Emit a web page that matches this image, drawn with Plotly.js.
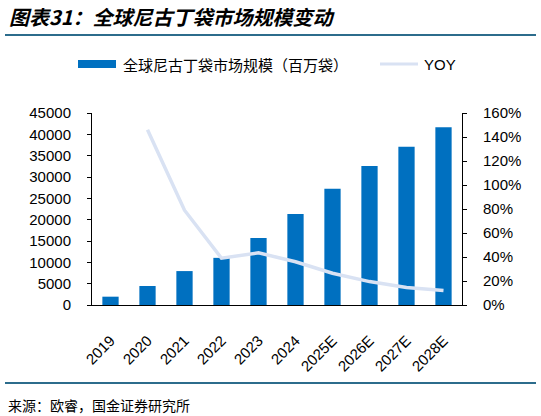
<!DOCTYPE html>
<html>
<head>
<meta charset="utf-8">
<script src="https://cdn.plot.ly/plotly-3.0.1.min.js"></script>
<style>
  html, body { margin: 0; padding: 0; background: #fff; }
  #chart { width: 541px; height: 416px; }
</style>
</head>
<body>
<div id="chart"></div>
<script>
// 数据：全球尼古丁袋市场规模（百万袋）及同比
const years   = ['2019', '2020', '2021', '2022', '2023', '2024', '2025E', '2026E', '2027E', '2028E'];
const market  = [1950, 4450, 7950, 11050, 15700, 21300, 27250, 32550, 37100, 41650];
const yoy     = [null, 1.46, 0.79, 0.39, 0.435, 0.36, 0.265, 0.195, 0.145, 0.12];

const leftTicks  = [0, 5000, 10000, 15000, 20000, 25000, 30000, 35000, 40000, 45000];
const rightTicks = [0, 0.2, 0.4, 0.6, 0.8, 1.0, 1.2, 1.4, 1.6];

const BAR_COLOR  = '#0070C0';
const LINE_COLOR = '#D9E2F3';
const RULE_COLOR = '#2C6C8C';
const CJK  = '"Noto Sans CJK SC", sans-serif';
const SANS = '"Liberation Sans", Arial, sans-serif';

// 绘图区域的像素位置，用来把标题/图例换算成 paper 坐标
const L = 92, R = 79, T = 113, B = 111, W = 541, H = 416;
const pw = W - L - R, ph = H - T - B;
const px = (x) => (x - L) / pw;
const py = (y) => (H - B - y) / ph;

const traces = [
  {
    x: years, y: market, type: 'bar', name: '全球尼古丁袋市场规模（百万袋）',
    marker: { color: BAR_COLOR }, yaxis: 'y', hoverinfo: 'skip',
  },
  {
    x: years, y: yoy, type: 'scatter', mode: 'lines', name: 'YOY',
    line: { color: LINE_COLOR, width: 3.5 }, yaxis: 'y2', hoverinfo: 'skip',
  },
];

const axisCommon = {
  showgrid: false, zeroline: false, showline: true, linecolor: '#000', linewidth: 1,
  ticks: 'outside', ticklen: 4, tickcolor: '#000', ticklabelstandoff: 13,
  tickfont: { family: SANS, size: 15, color: '#000' },
};

const layout = {
  width: W, height: H,
  margin: { l: L, r: R, t: T, b: B },
  paper_bgcolor: '#fff', plot_bgcolor: '#fff',
  showlegend: false,
  bargap: 0.56,
  xaxis: {
    type: 'category', showgrid: false, zeroline: false, showline: true,
    linecolor: '#000', linewidth: 1, ticks: '', tickangle: -45, ticklabelstandoff: 20,
    tickfont: { family: SANS, size: 15, color: '#000' },
  },
  yaxis: Object.assign({}, axisCommon, {
    range: [0, 45000], tickvals: leftTicks, ticktext: leftTicks.map(String),
  }),
  yaxis2: Object.assign({}, axisCommon, {
    overlaying: 'y', side: 'right', range: [0, 1.6],
    tickvals: rightTicks, ticktext: rightTicks.map((v) => Math.round(v * 100) + '%'),
  }),
  shapes: [
    // 标题下分隔线
    { type: 'line', xref: 'paper', yref: 'paper', x0: px(5), x1: px(536), y0: py(35), y1: py(35),
      line: { color: RULE_COLOR, width: 2 } },
    // 底部分隔线
    { type: 'line', xref: 'paper', yref: 'paper', x0: px(5), x1: px(536), y0: py(383), y1: py(383),
      line: { color: RULE_COLOR, width: 2 } },
    // 图例色块
    { type: 'rect', xref: 'paper', yref: 'paper', x0: px(78), x1: px(116), y0: py(60), y1: py(68),
      fillcolor: BAR_COLOR, line: { width: 0 } },
    { type: 'line', xref: 'paper', yref: 'paper', x0: px(380), x1: px(418), y0: py(64), y1: py(64),
      line: { color: LINE_COLOR, width: 3 } },
  ],
  annotations: [
    { text: '<b><i>图表31：全球尼古丁袋市场规模变动</i></b>', xref: 'paper', yref: 'paper',
      x: px(7), y: py(16), xanchor: 'left', yanchor: 'middle', showarrow: false,
      font: { family: CJK, size: 20, color: '#000' } },
    { text: '全球尼古丁袋市场规模（百万袋）', xref: 'paper', yref: 'paper',
      x: px(121), y: py(64), xanchor: 'left', yanchor: 'middle', showarrow: false,
      font: { family: CJK, size: 15, color: '#000' } },
    { text: 'YOY', xref: 'paper', yref: 'paper',
      x: px(422), y: py(64), xanchor: 'left', yanchor: 'middle', showarrow: false,
      font: { family: SANS, size: 15, color: '#000' } },
    { text: '来源：欧睿，国金证券研究所', xref: 'paper', yref: 'paper',
      x: px(6), y: py(405), xanchor: 'left', yanchor: 'middle', showarrow: false,
      font: { family: CJK, size: 14, color: '#000' } },
  ],
};

Plotly.newPlot('chart', traces, layout, { staticPlot: true, displayModeBar: false });
</script>
</body>
</html>
